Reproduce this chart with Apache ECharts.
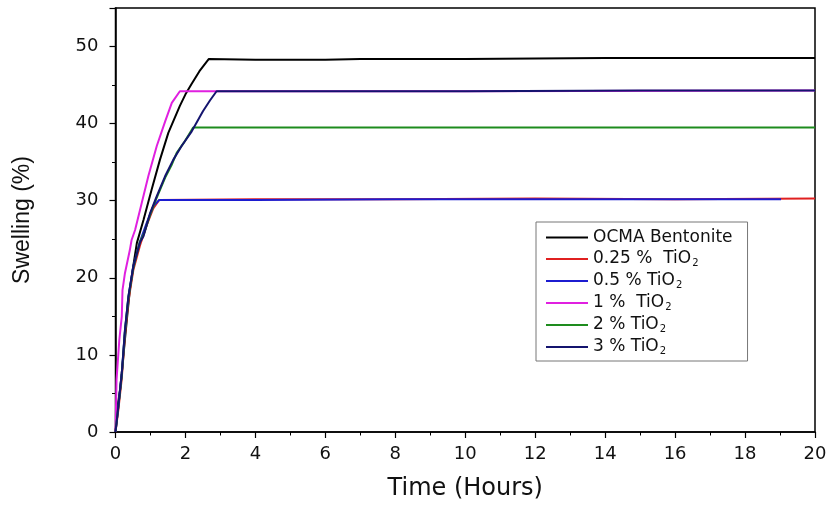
<!DOCTYPE html>
<html>
<head>
<meta charset="utf-8">
<script src="https://cdn.jsdelivr.net/npm/echarts@6/dist/echarts.min.js"></script>
<style>html,body{margin:0;padding:0;background:#fff}#c{width:830px;height:509px}</style>
</head>
<body>
<div id="c"></div>
<script>
const seriesNames = ['OCMA Bentonite', '0.25 %  TiO2', '0.5 % TiO2', '1 %  TiO2', '2 % TiO2', '3 % TiO2'];
const xTicks = [0, 2, 4, 6, 8, 10, 12, 14, 16, 18, 20];
const yTicks = [0, 10, 20, 30, 40, 50];

const ocma = [[0,0],[0.05,3.0],[0.13,5.5],[0.2,8.6],[0.27,12.0],[0.34,15.3],[0.41,18.4],[0.5,21.3],[0.61,24.5],[0.8,27.5],[1.03,31.4],[1.27,35.3],[1.51,38.8],[1.84,42.3],[2.0,43.8],[2.17,45.1],[2.4,46.8],[2.67,48.4],[4,48.3],[6,48.3],[7,48.4],[10,48.4],[14,48.5],[20,48.5]];
const ti025 = [[0,0],[0.08,2.8],[0.18,7.0],[0.27,12.6],[0.37,17.0],[0.51,21.0],[0.7,24.2],[0.89,26.8],[1.08,29.0],[1.25,30.1],[4,30.2],[8,30.2],[12,30.3],[16,30.2],[20,30.3]];
const ti05 = [[0,0],[0.08,3.3],[0.18,7.6],[0.27,13.2],[0.37,17.6],[0.51,21.5],[0.7,24.7],[0.89,27.1],[1.08,29.3],[1.25,30.1],[4,30.1],[8,30.2],[12,30.2],[16,30.2],[19.03,30.2]];
const ti1 = [[0,0],[0.03,6.8],[0.11,12.0],[0.18,15.0],[0.2,18.4],[0.27,20.6],[0.41,23.6],[0.46,24.9],[0.56,26.2],[0.75,29.7],[0.94,33.2],[1.18,37.1],[1.42,40.3],[1.61,42.7],[1.84,44.2],[4,44.2],[10,44.2],[20,44.3]];
const ti2 = [[0,0],[0.08,3.2],[0.18,7.4],[0.27,13.0],[0.37,17.4],[0.51,21.3],[0.7,24.7],[0.82,25.8],[0.99,28.2],[1.18,30.4],[1.42,33.0],[1.6,34.6],[1.75,36.2],[1.95,37.5],[2.1,38.6],[2.22,39.5],[5,39.5],[10,39.5],[15,39.5],[20,39.5]];
const ti3 = [[0,0],[0.08,3.3],[0.18,7.6],[0.27,13.2],[0.37,17.6],[0.51,21.5],[0.7,24.6],[0.8,25.4],[0.99,28.4],[1.18,30.6],[1.42,33.2],[1.65,35.3],[1.89,37.1],[2.18,39.0],[2.5,41.6],[2.7,43.0],[2.89,44.2],[6,44.2],[10,44.2],[15,44.3],[20,44.3]];

const seriesData = [ocma, ti025, ti05, ti1, ti2, ti3];
const colors = ['#000000', '#e02020', '#1c1cd0', '#e020e0', '#1e8c1e', '#14146e'];

const HFONT = 'DejaVu Sans, Verdana, sans-serif';
const VFONT = 'Liberation Sans, Arial, sans-serif';

function legendFmt(name) {
  if (name.endsWith('TiO2')) {
    return '{a|' + name.slice(0, -1) + '}{s|2}';
  }
  return '{a|' + name + '}';
}

const chart = echarts.init(document.getElementById('c'));
chart.setOption({
  animation: false,
  backgroundColor: '#ffffff',
  grid: { left: 115.5, right: 15, top: 8, bottom: 77, show: true, borderColor: '#000', borderWidth: 1.5, backgroundColor: 'transparent' },
  legend: {
    orient: 'vertical', left: 536, top: 222,
    data: seriesNames,
    backgroundColor: '#fff', borderColor: '#777', borderWidth: 1,
    padding: [7, 15, 5, 10], itemGap: 2,
    itemWidth: 42, itemHeight: 2, icon: 'rect',
    formatter: legendFmt,
    textStyle: {
      rich: {
        a: { fontFamily: HFONT, fontSize: 17, color: '#111', lineHeight: 18 },
        s: { fontFamily: HFONT, fontSize: 10, color: '#111', lineHeight: 8, verticalAlign: 'bottom', padding: [10, 0, 0, 1] }
      }
    }
  },
  xAxis: {
    type: 'value', min: xTicks[0], max: xTicks[xTicks.length - 1], interval: 2,
    name: 'Time (Hours)', nameLocation: 'middle', nameGap: 45,
    nameTextStyle: { fontFamily: HFONT, fontSize: 24, color: '#111' },
    axisLine: { show: true, lineStyle: { color: '#000', width: 1.5 } },
    axisTick: { show: true, length: 6, lineStyle: { color: '#000', width: 1.2 } },
    minorTick: { show: true, splitNumber: 2, length: 3.5, lineStyle: { color: '#000', width: 1 } },
    splitLine: { show: false },
    axisLabel: { fontFamily: HFONT, fontSize: 18, color: '#111', margin: 13 }
  },
  yAxis: {
    type: 'value', min: 0, max: 55, interval: 10,
    name: 'Swelling (%)', nameLocation: 'middle', nameGap: 81,
    nameTextStyle: { fontFamily: VFONT, fontSize: 23, color: '#111' },
    axisLine: { show: true, lineStyle: { color: '#000', width: 1.5 } },
    axisTick: { show: true, length: 6, lineStyle: { color: '#000', width: 1.2 } },
    minorTick: { show: true, splitNumber: 2, length: 3.5, lineStyle: { color: '#000', width: 1 } },
    splitLine: { show: false },
    axisLabel: { fontFamily: HFONT, fontSize: 18, color: '#111', margin: 17, showMaxLabel: false,
      formatter: v => (yTicks.indexOf(v) >= 0 ? String(v) : '') }
  },
  series: seriesNames.map((n, i) => ({
    name: n, type: 'line', data: seriesData[i], symbol: 'none', showSymbol: false,
    lineStyle: { color: colors[i], width: 2 }, itemStyle: { color: colors[i] }, z: 2 + i
  }))
});
</script>
</body>
</html>
